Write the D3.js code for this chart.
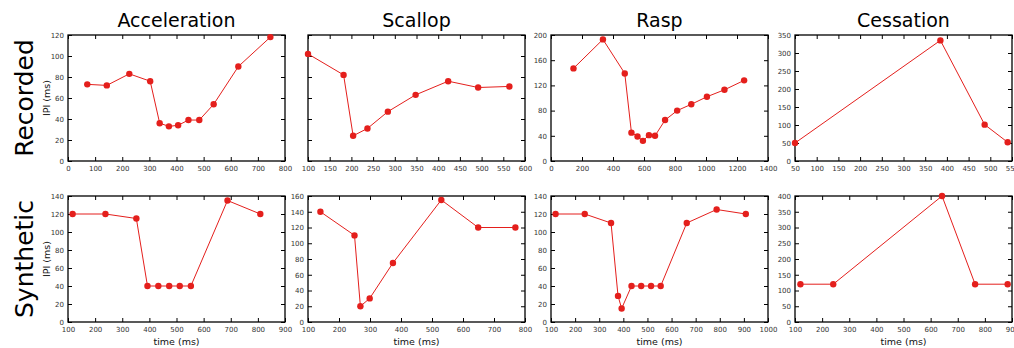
<!DOCTYPE html>
<html>
<head>
<meta charset="utf-8">
<style>
  body { margin: 0; background: #fff; }
  svg text { font-family: "DejaVu Sans", sans-serif; }
</style>
<script src="https://cdnjs.cloudflare.com/ajax/libs/d3/7.8.5/d3.min.js"></script>
</head>
<body>
<svg id="chart" width="1014" height="348"></svg>
<script>

var columns = ["Acceleration", "Scallop", "Rasp", "Cessation"];
var rows = ["Recorded", "Synthetic"];

// recorded
var accRecT = [71, 143, 226, 303, 338, 372, 406, 444, 484, 537, 628, 746];
var accRecIPI = [73, 72, 83, 76, 36, 33, 34, 39, 39, 54, 90, 118];
var scaRecT = [100, 182, 204, 237, 284, 348, 423, 492, 564];
var scaRecIPI = [102, 82, 24, 31, 47, 63, 76, 70, 71];
var rasRecT = [145, 335, 476, 519, 558, 593, 632, 671, 736, 814, 905, 1006, 1119, 1246];
var rasRecIPI = [147, 193, 139, 45, 39, 32, 41, 40, 65, 80, 90, 102, 113, 128];
var cesRecT = [50, 385, 487, 540];
var cesRecIPI = [50, 335, 101, 52];

// synthetic
var accSynT = [117, 238, 352, 393, 433, 473, 512, 553, 688, 809];
var accSynIPI = [120, 120, 115, 40, 40, 40, 40, 40, 135, 120];
var scaSynT = [140, 250, 269, 299, 374, 530, 649, 769];
var scaSynIPI = [140, 110, 20, 30, 75, 155, 120, 120];
var rasSynT = [119, 240, 349, 378, 393, 434, 474, 515, 555, 663, 787, 908];
var rasSynIPI = [120, 120, 110, 29, 15, 40, 40, 40, 40, 110, 125, 120];
var cesSynT = [120, 241, 642, 764, 884];
var cesSynIPI = [120, 120, 400, 120, 120];

// axis ranges and ticks
var recXDomains = [[0, 800], [100, 600], [0, 1400], [50, 550]];
var recXTicks = [d3.range(0, 801, 100), d3.range(100, 601, 50), d3.range(0, 1401, 200), d3.range(50, 551, 50)];
var recYDomains = [[0, 120], [0, 120], [0, 200], [0, 350]];
var recYTicks = [d3.range(0, 121, 20), d3.range(0, 121, 20), d3.range(0, 201, 40), d3.range(0, 351, 50)];
var synXDomains = [[100, 900], [100, 800], [100, 1000], [100, 900]];
var synXTicks = [d3.range(100, 901, 100), d3.range(100, 801, 100), d3.range(100, 1001, 100), d3.range(100, 901, 100)];
var synYDomains = [[0, 140], [0, 160], [0, 140], [0, 400]];
var synYTicks = [d3.range(0, 141, 20), d3.range(0, 161, 20), d3.range(0, 141, 20), d3.range(0, 401, 50)];

var recSeries = [[accRecT, accRecIPI], [scaRecT, scaRecIPI], [rasRecT, rasRecIPI], [cesRecT, cesRecIPI]];
var synSeries = [[accSynT, accSynIPI], [scaSynT, scaSynIPI], [rasSynT, rasSynIPI], [cesSynT, cesSynIPI]];

var panelLeft = [68, 308, 551, 795],
    panelTop = [35, 196],
    pw = 217, ph = 126,
    red = "#e41f1c";

var svg = d3.select("#chart");

function drawPanel(left, top, series, xDom, xTicks, yDom, yTicks, yLabels) {
  var g = svg.append("g").attr("transform", "translate(" + left + "," + top + ")");
  var x = d3.scaleLinear().domain(xDom).range([0, pw]);
  var y = d3.scaleLinear().domain(yDom).range([ph, 0]);

  var xb = g.append("g").attr("transform", "translate(0," + ph + ")")
    .call(d3.axisBottom(x).tickValues(xTicks).tickFormat(d3.format("d")).tickSizeInner(-4).tickSizeOuter(0).tickPadding(5));
  var xt = g.append("g")
    .call(d3.axisTop(x).tickValues(xTicks).tickFormat("").tickSizeInner(-4).tickSizeOuter(0));
  var yl = g.append("g")
    .call(d3.axisLeft(y).tickValues(yTicks).tickFormat(yLabels ? d3.format("d") : "").tickSizeInner(-4).tickSizeOuter(0).tickPadding(4));
  var yr = g.append("g").attr("transform", "translate(" + pw + ",0)")
    .call(d3.axisRight(y).tickValues(yTicks).tickFormat("").tickSizeInner(-4).tickSizeOuter(0));

  [xb, xt, yl, yr].forEach(function(a) {
    a.select(".domain").remove();
    a.selectAll(".tick line").attr("stroke", "#000");
    a.selectAll(".tick text").attr("fill", "#333").style("font-size", "7px")
      .style("font-family", "DejaVu Sans, sans-serif");
  });

  g.append("rect").attr("width", pw).attr("height", ph)
    .attr("fill", "none").attr("stroke", "#000").attr("stroke-width", 1.3);

  var pts = series[0].map(function(t, i) { return [t, series[1][i]]; });
  g.append("path").datum(pts)
    .attr("fill", "none").attr("stroke", red).attr("stroke-width", 1)
    .attr("d", d3.line().x(function(d){ return x(d[0]); }).y(function(d){ return y(d[1]); }));
  g.selectAll("circle").data(pts).enter().append("circle")
    .attr("cx", function(d){ return x(d[0]); })
    .attr("cy", function(d){ return y(d[1]); })
    .attr("r", 3.2).attr("fill", red);
}

columns.forEach(function(c, i) {
  drawPanel(panelLeft[i], panelTop[0], recSeries[i], recXDomains[i], recXTicks[i], recYDomains[i], recYTicks[i], i !== 1);
  drawPanel(panelLeft[i], panelTop[1], synSeries[i], synXDomains[i], synXTicks[i], synYDomains[i], synYTicks[i], true);

  svg.append("text").attr("x", panelLeft[i] + pw / 2).attr("y", 27)
    .attr("text-anchor", "middle").style("font-size", "19px").attr("fill", "#000").text(c);

  svg.append("text").attr("x", panelLeft[i] + pw / 2).attr("y", 345)
    .attr("text-anchor", "middle").style("font-size", "9.5px").attr("fill", "#111").text("time (ms)");
});

rows.forEach(function(r, j) {
  var cy = panelTop[j] + ph / 2;
  svg.append("text").attr("transform", "translate(33," + cy + ") rotate(-90)")
    .attr("text-anchor", "middle").style("font-size", "25px").attr("fill", "#000").text(r);
  svg.append("text").attr("transform", "translate(50," + cy + ") rotate(-90)")
    .attr("text-anchor", "middle").style("font-size", "9.5px").attr("fill", "#111").text("IPI (ms)");
});

</script>
</body>
</html>
